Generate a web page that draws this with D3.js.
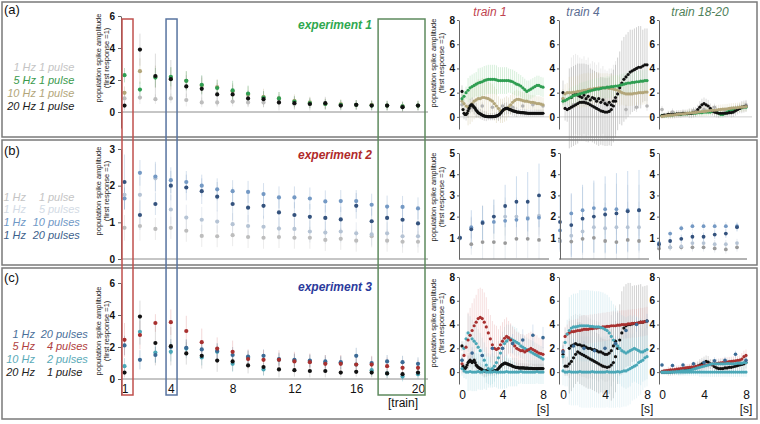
<!DOCTYPE html>
<html>
<head>
<meta charset="utf-8">
<script src="https://cdn.jsdelivr.net/npm/d3@7"></script>
<style>
  body { margin: 0; background: #fff; }
  svg { display: block; font-family: "Liberation Sans", Arial, sans-serif; }
</style>
</head>
<body>
<svg id="fig" width="760" height="424"></svg>
<script>
// ---------- data: summary per train (left column) ----------
const trains = [1,2,3,4,5,6,7,8,9,10,11,12,13,14,15,16,17,18,19,20];

// experiment 1
const labelsA = ['1 Hz 1 pulse', '5 Hz 1 pulse', '10 Hz 1 pulse', '20 Hz 1 pulse'];
const expA_1Hz  = [0.85,0.9,0.8,0.85,0.75,0.6,0.6,0.65,0.6,0.6,0.6,0.5,0.5,0.5,0.45,0.45,0.45,0.4,0.35,0.4];
const expA_5Hz  = [2.3,1.4,2.15,2.2,1.95,1.7,1.5,1.35,1.15,0.9,0.85,0.65,0.55,0.5,0.45,0.45,0.4,0.4,0.35,0.4];
const expA_10Hz = [1.2,2.55,2.2,2.1,1.95,1.65,1.55,1.3,1.1,0.95,0.85,0.7,0.6,0.5,0.5,0.45,0.45,0.4,0.35,0.4];
const expA_20Hz = [0.4,3.9,2.25,2.05,1.6,1.45,1.1,1.1,0.85,0.8,0.6,0.55,0.5,0.55,0.4,0.45,0.4,0.4,0.3,0.4];
const errA_1Hz  = [0.3,0.4,0.3,0.3,0.4,0.3,0.3,0.3,0.3,0.3,0.3,0.3,0.3,0.3,0.3,0.25,0.25,0.25,0.25,0.25];
const errA_5Hz  = [0.45,0.5,0.6,0.6,0.6,0.6,0.5,0.6,0.5,0.4,0.4,0.35,0.3,0.3,0.3,0.3,0.3,0.3,0.3,0.3];
const errA_10Hz = [0.4,0.8,0.7,0.7,0.6,0.5,0.5,0.5,0.5,0.5,0.4,0.4,0.35,0.35,0.3,0.3,0.3,0.3,0.3,0.3];
const errA_20Hz = [0.3,1.0,1.4,1.2,0.7,0.8,0.7,0.6,0.5,0.5,0.5,0.4,0.4,0.4,0.3,0.3,0.3,0.3,0.3,0.3];

// experiment 2
const labelsB = ['1 Hz 1 pulse', '1 Hz 5 pulses', '1 Hz 10 pulses', '1 Hz 20 pulses'];
const expB_1p  = [0.85,0.9,0.82,0.85,0.77,0.63,0.62,0.65,0.6,0.58,0.6,0.58,0.58,0.52,0.55,0.5,0.62,0.5,0.47,0.47];
const expB_5p  = [1.75,1.75,2.2,1.35,1.13,1.07,1.02,0.95,0.9,0.88,0.83,0.82,0.75,0.72,0.75,0.7,0.67,0.7,0.62,0.62];
const expB_10p = [1.65,2.35,2.25,2.15,2.1,2.0,1.9,1.85,1.83,1.77,1.68,1.68,1.65,1.57,1.58,1.58,1.48,1.43,1.42,1.38];
const expB_20p = [2.1,1.2,1.5,2.0,1.95,1.85,1.7,1.5,1.4,1.45,1.27,1.2,1.15,1.12,1.08,1.45,1.03,1.12,1.07,0.97];
const errB_1p  = [0.35,0.4,0.3,0.3,0.3,0.3,0.3,0.3,0.3,0.3,0.3,0.3,0.3,0.3,0.3,0.3,0.3,0.3,0.3,0.3];
const errB_5p  = [0.4,0.5,0.4,0.4,0.35,0.35,0.3,0.3,0.3,0.3,0.3,0.3,0.3,0.3,0.3,0.3,0.3,0.3,0.3,0.3];
const errB_10p = [0.3,0.35,0.4,0.35,0.3,0.3,0.3,0.3,0.3,0.3,0.3,0.3,0.3,0.3,0.3,0.3,0.3,0.3,0.3,0.3];
const errB_20p = [0.75,0.4,0.3,0.4,0.35,0.35,0.4,0.45,0.4,0.35,0.4,0.35,0.35,0.35,0.35,0.35,0.35,0.35,0.35,0.35];

// experiment 3
const labelsC = ['1 Hz 20 pulses', '5 Hz 4 pulses', '10 Hz 2 pulses', '20 Hz 1 pulse'];
const expC_1Hz  = [2.1,1.2,1.5,2.0,1.95,1.85,1.75,1.5,1.4,1.45,1.25,1.2,1.15,1.1,1.05,1.45,1.0,1.1,1.05,0.95];
const expC_5Hz  = [2.45,2.75,3.5,3.55,3.0,2.3,1.9,1.7,1.25,1.2,1.2,1.1,1.05,0.95,0.95,0.9,0.9,0.8,0.7,0.7];
const expC_10Hz = [0.8,2.95,1.65,1.7,1.9,1.35,1.7,0.95,1.35,0.6,1.2,1.15,1.1,1.0,1.0,0.9,0.55,0.35,0.15,0.3];
const expC_20Hz = [0.4,3.9,2.25,2.05,1.6,1.45,1.15,1.1,0.85,0.75,0.6,0.55,0.5,0.5,0.4,0.45,0.4,0.35,0.3,0.4];
const errC_1Hz  = [0.6,0.6,0.5,0.5,0.5,0.5,0.5,0.5,0.4,0.4,0.4,0.4,0.4,0.4,0.4,0.5,0.4,0.4,0.4,0.4];
const errC_5Hz  = [1.05,0.9,0.55,0.8,0.95,0.85,0.7,0.7,0.6,0.6,0.6,0.6,0.55,0.55,0.55,0.55,0.55,0.55,0.5,0.5];
const errC_10Hz = [0.5,0.8,0.6,0.6,0.6,0.5,0.5,0.5,0.4,0.4,0.4,0.4,0.4,0.4,0.4,0.4,0.4,0.3,0.3,0.3];
const errC_20Hz = [0.3,1.0,1.4,1.2,0.7,0.8,0.7,0.6,0.5,0.5,0.5,0.4,0.4,0.4,0.3,0.3,0.3,0.3,0.3,0.3];

// ---------- data: responses within a train (right column), t in s ----------
// exp 1, train 1
const a1_black = [2.1,0.6,0.3,0.2,0.2,0.3,0.5,0.7,0.9,1.0, 1.0,0.9,0.8,0.7,0.55,0.45,0.35,0.3,0.25,0.2,
  0.15,0.1,0.08,0.05,0.05,0.03,0.02,0.02,0.02,0.02, 0.02,0.03,0.05,0.05,0.08,0.1,0.15,0.2,0.3,0.4,
  0.5,0.6,0.65,0.7,0.7,0.7,0.65,0.6,0.6,0.55, 0.5,0.5,0.45,0.45,0.4,0.4,0.4,0.38,0.36,0.35,
  0.35,0.34,0.33,0.32,0.32,0.3,0.3,0.3,0.3,0.3, 0.3,0.3,0.3,0.3,0.3,0.3,0.3,0.3,0.3,0.3,0.3];
const a1_green = [1.5,1.7,2.0,2.2,2.4,2.5,2.6,2.7,2.8,2.85, 2.9,3.0,3.05,3.1,3.1,3.1,3.1,3.05,3.0,3.0,
  3.0,3.0,3.0,3.0,2.95,2.9,2.8,2.7,2.65,2.55, 2.4,2.25,2.1,2.2,2.3,2.4,2.5,2.6,2.6,2.5, 2.45];
const a1_tan = [1.3,1.1,0.9,0.8,0.9,1.1,1.3,1.4,1.5,1.5, 1.6,1.6,1.55,1.5,1.4,1.3,1.1,0.9,0.7,0.5,
  0.5,0.6,0.7,0.8,1.0,1.2,1.35,1.45,1.45,1.4, 1.35,1.3,1.3,1.25,1.2,1.2,1.15,1.1,1.1,1.05, 1.0];
const a1_gray = [1.0,0.8,0.9,0.8,0.9,0.8,0.9,1.0,0.9];
const a1_blackErr = [0.5,0.6,0.4,0.3,0.5,0.4,0.3,0.3,0.3];
const a1_greenErr = [0.5,1.0,1.2,1.2,1.1,1.0,0.9,0.8,0.8];
const a1_tanErr   = [0.8,1.5,1.6,1.4,1.0,0.8,0.7,0.6,0.6];
const a1_grayErr  = [0.3,0.3,0.3,0.3,0.3,0.3,0.3,0.3,0.3];

// exp 1, train 4
const a4_black = [2.0,0.7,0.6,0.7,0.8,0.9,1.0,1.1,1.2,1.2, 1.2,1.15,1.1,1.0,0.9,0.8,0.7,0.6,0.5,0.45,
  0.4,0.4,0.45,0.6,0.9,1.3,1.9,2.4,2.8,3.1, 3.3,3.5,3.7,3.8,3.9,4.0,4.1,4.1,4.2,4.3, 4.3];
const a4_blackUp = [1.6,1.8,1.9,1.8,1.7,1.6,1.8,1.5,1.7,1.4, 1.6,1.5,1.3,1.5,1.2,1.4,1.1,1.0,1.2,1.0, 1.3,1.6];
const a4_green = [1.3,1.35,1.45,1.55,1.65,1.75,1.8,1.85,1.9,1.95, 2.0,2.05,2.1,2.15,2.2,2.25,2.3,2.3,2.35,2.4,
  2.4,2.45,2.45,2.5,2.5,2.55,2.55,2.6,2.65,2.7, 2.75,2.8,2.8,2.85,2.85,2.9,2.9,2.95,2.95,3.0, 3.0];
const a4_tan = [1.5,1.9,2.0,2.0,2.0,2.05,2.05,2.1,2.1,2.15, 2.2,2.2,2.25,2.3,2.3,2.35,2.35,2.4,2.4,2.4,
  2.4,2.4,2.35,2.35,2.3,2.25,2.2,2.1,2.0,1.95, 1.9,1.9,1.9,1.9,1.95,1.95,2.0,2.0,2.0,2.05, 2.05];
const a4_gray = [1.5,1.0,1.3,1.5,1.2,1.4,0.6,0.8,0.9];
const a4_blackErr = [1.0,3.3,3.2,3.0,2.8,3.0,3.5,3.4,3.0];
const a4_greenErr = [0.5,0.8,0.9,0.9,0.9,0.9,0.9,0.9,0.9];
const a4_tanErr   = [0.8,1.3,1.4,1.3,1.2,1.2,1.0,1.0,1.0];
const a4_grayErr  = [0.4,0.4,0.4,0.4,0.4,0.4,0.4,0.4,0.4];

// exp 1, trains 18-20
const a18_black = [0.1,0.15,0.15,0.2,0.2,0.2,0.2,0.25,0.25,0.25, 0.3,0.3,0.3,0.3,0.3,0.35,0.4,0.6,0.8,1.0,
  1.1,1.0,0.9,0.7,0.5,0.4,0.35,0.3,0.3,0.3, 0.3,0.3,0.35,0.35,0.4,0.5,0.6,0.7,0.8,0.85, 0.9];
const a18_green = [0.1,0.1,0.1,0.15,0.15,0.15,0.2,0.2,0.2,0.2, 0.25,0.25,0.25,0.3,0.3,0.3,0.3,0.35,0.35,0.35,
  0.4,0.4,0.4,0.4,0.45,0.45,0.4,0.3,0.2,0.2, 0.3,0.4,0.5,0.6,0.6,0.65,0.7,0.7,0.75,0.8, 0.8];
const a18_tan = [0.05,0.07,0.1,0.12,0.14,0.15,0.17,0.2,0.22,0.24, 0.25,0.27,0.3,0.32,0.34,0.35,0.37,0.4,0.42,0.44,
  0.45,0.47,0.5,0.52,0.54,0.55,0.57,0.6,0.62,0.64, 0.65,0.67,0.7,0.72,0.74,0.75,0.77,0.8,0.8,0.82, 0.85];
const a18_gray = [0.6,0.4,0.3,0.5,0.6,0.8,0.5,0.7,1.0];
const a18_blackErr = [0.2,0.3,0.3,0.4,0.5,0.4,0.3,0.4,0.5];
const a18_greenErr = [0.2,0.2,0.2,0.3,0.3,0.3,0.3,0.3,0.3];
const a18_tanErr   = [0.2,0.3,0.3,0.3,0.4,0.4,0.4,0.4,0.4];
const a18_grayErr  = [0.3,0.3,0.3,0.3,0.3,0.3,0.3,0.3,0.3];

// exp 2: 8 responses within a train
const b1_20p = [1.0,1.4,1.7,2.0,2.5,2.7,2.7,3.0];
const b1_10p = [1.0,1.5,1.75,1.75,1.8,1.85,1.9,1.95];
const b1_5p  = [1.0,1.45,1.7,2.0,2.0,2.0,1.95,2.05];
const b1_1p  = [1.0,0.7,0.8,0.8,0.75,0.95,0.95,0.9];
const b4_20p = [1.75,1.6,1.9,2.0,2.1,2.15,2.25,2.3];
const b4_10p = [1.35,2.15,2.3,2.4,2.35,2.35,2.3,2.3];
const b4_5p  = [0.85,1.1,1.3,1.5,1.45,1.5,1.5,1.5];
const b4_1p  = [0.85,0.82,0.95,1.0,0.85,0.8,0.9,0.85];
const b18_20p = [0.7,0.85,0.95,1.05,1.05,1.15,1.2,1.5];
const b18_10p = [0.75,1.2,1.45,1.55,1.55,1.55,1.55,1.55];
const b18_5p  = [0.6,0.55,0.6,0.75,0.75,0.7,0.7,0.75];
const b18_1p  = [0.5,0.55,0.55,0.55,0.55,0.5,0.45,0.55];
const b1_err20  = [0.15,0.9,0.8,0.8,1.0,1.2,1.4,1.5];
const b1_errOth = [0.1,0.5,0.8,0.8,0.9,0.9,0.9,0.9];
const b4_err20  = [1.3,1.5,1.6,1.7,1.8,1.9,1.9,1.9];
const b4_errOth = [0.5,0.9,1.1,1.2,1.2,1.2,1.2,1.2];
const b18_err20  = [0.15,0.2,0.2,0.2,0.2,0.2,0.2,0.2];
const b18_errOth = [0.15,0.15,0.15,0.2,0.2,0.2,0.2,0.2];

// exp 3, train 1
const c1_black = [2.2,0.5,0.3,0.3,0.4,0.6,0.8,0.9,1.0,0.9, 0.8,0.9,1.0,0.8,0.6,0.5,0.4,0.35,0.3,0.25,
  0.2,0.15,0.1,0.1,0.1,0.1,0.1,0.1,0.1,0.1, 0.1,0.1,0.1,0.1,0.15,0.2,0.3,0.4,0.5,0.6,
  0.65,0.7,0.75,0.75,0.7,0.7,0.65,0.6,0.6,0.55, 0.5,0.45,0.45,0.4,0.4,0.4,0.35,0.35,0.35,0.35,
  0.35,0.35,0.33,0.33,0.33,0.33,0.32,0.32,0.32,0.32, 0.3,0.3,0.3,0.3,0.3,0.3,0.3,0.3,0.3,0.3,0.3];
const c1_red = [0.7,1.4,2.1,2.7,3.1,3.5,3.9,4.2,4.5,4.6, 4.5,4.2,3.8,3.3,2.8,2.3,2.0,1.9,2.0,2.3,
  2.6,2.85,3.0,2.9,2.7,2.4,2.2,2.0,1.9,1.8, 1.8,1.7,1.8,1.9,2.0,1.9,1.8,1.7,1.6,1.55, 1.5];
const c1_tealUp = [1.0,2.0,2.8,3.3,3.1,2.8,2.6,2.4,2.1,1.8, 1.4,1.0,0.6,0.3,0.2,0.3,0.5,0.8,1.2,1.6,
  2.0,2.4,2.6,2.8,2.8,2.7,2.6,2.5,2.4,2.2, 2.1,2.0,1.9,1.8,1.7,1.6,1.5,1.4,1.3,1.2, 1.1];
const c1_tealLow = [0.3,0.1,0.0,0.0,0.05,0.0,0.0,0.0,0.05,0.0, 0.0,0.1,0.0,0.0,0.0,0.0,0.05,0.0,0.0,0.0,
  0.0,0.0,0.05,0.0,0.0,0.0,0.0,0.0,0.0,0.05, 0.0,0.0,0.0,0.0,0.0,0.0,0.0,0.05,0.0,0.0, 0.0];
const c1_blue = [1.0,1.6,1.4,2.0,2.0,2.4,2.7,3.1,2.9];
const c1_blackErr = [0.4,0.6,0.5,0.4,0.5,0.4,0.4,0.4,0.4];
const c1_redErr   = [0.8,2.3,2.5,2.0,1.6,1.4,1.4,1.4,1.3];
const c1_tealErr  = [0.6,1.6,1.5,1.3,1.4,1.2,1.0,1.0,1.0];
const c1_blueErr  = [0.3,0.5,0.6,0.7,0.8,0.8,0.9,0.9,0.9];

// exp 3, train 4
const c4_black = [1.5,0.5,0.5,0.7,0.9,1.2,1.5,1.7,1.6,1.5, 1.4,1.3,1.2,1.1,1.0,0.9,0.8,0.7,0.6,0.5,
  0.45,0.4,0.45,0.6,0.8,1.3,2.0,2.7,3.3,3.7, 3.9,4.0,4.0,4.05,4.1,4.1,4.15,4.2,4.2,4.25, 4.3];
const c4_blackUp = [2.0,2.2,2.3,2.4,2.3,2.3,2.2,2.2,2.1,2.0, 2.0,1.9,1.9,1.8,1.7,1.7,1.6,1.5,1.5,1.6, 1.8,2.2,2.6];
const c4_red = [1.8,3.0,3.2,3.3,3.4,3.4,3.45,3.5,3.5,3.55, 3.6,3.6,3.6,3.65,3.65,3.7,3.7,3.75,3.75,3.8,
  3.8,3.85,3.85,3.9,3.9,3.9,3.95,3.95,4.0,4.0, 4.0,4.05,4.05,4.1,4.1,4.1,4.15,4.2,4.2,4.25, 4.3];
const c4_tealUp = [1.3,2.5,3.2,3.5,3.7,3.8,3.8,3.85,3.9,3.9, 3.9,3.9,3.9,3.85,3.85,3.8,3.8,3.8,3.75,3.7,
  3.6,3.5,3.3,3.0,2.7,2.4,2.2,2.0,1.8,1.7, 1.6,1.7,1.8,1.9,2.0,1.9,1.8,1.7,1.7,1.8, 1.9];
const c4_tealLow = [0.1,0.0,0.0,0.05,0.0,0.0,0.0,0.0,0.05,0.0, 0.0,0.0,0.0,0.0,0.05,0.0,0.0,0.0,0.0,0.0,
  0.0,0.05,0.0,0.0,0.0,0.0,0.05,0.0,0.05,0.1, 0.1,0.2,0.3,0.4,0.5,0.6,0.8,0.9,1.0,1.2, 1.3];
const c4_blue = [1.7,2.2,2.0,1.8,2.0,2.4,3.5,4.0,4.3];
const c4_blackErr = [0.8,2.5,2.6,2.5,2.3,3.0,3.5,3.2,3.0];
const c4_redErr   = [0.8,1.0,1.2,1.2,1.2,1.2,1.2,1.2,1.2];
const c4_tealErr  = [1.2,2.8,3.0,3.0,3.0,3.0,3.0,2.8,2.5];
const c4_blueErr  = [0.5,0.6,0.6,0.6,0.6,0.6,0.6,0.6,0.6];

// exp 3, trains 18-20
const c18_black = [0.0,0.0,0.0,0.0,0.0,0.02,0.03,0.05,0.05,0.1, 0.1,0.15,0.2,0.25,0.3,0.35,0.4,0.5,0.6,0.7,
  0.8,0.9,0.85,0.7,0.6,0.45,0.35,0.3,0.3,0.3, 0.35,0.35,0.4,0.4,0.45,0.5,0.55,0.6,0.65,0.7, 0.8];
const c18_red = [0.05,0.1,0.12,0.15,0.18,0.2,0.22,0.25,0.28,0.3, 0.32,0.35,0.38,0.4,0.42,0.45,0.48,0.5,0.52,0.55,
  0.58,0.6,0.62,0.65,0.68,0.7,0.72,0.75,0.78,0.8, 0.82,0.85,0.88,0.9,0.92,0.95,0.98,1.0,1.1,1.3, 1.4];
const c18_tealUp = [0.0,0.0,0.0,0.0,0.0,0.02,0.03,0.05,0.05,0.08, 0.1,0.1,0.12,0.15,0.2,0.25,0.3,0.35,0.4,0.45,
  0.5,0.55,0.6,0.65,0.7,0.7,0.7,0.7,0.7,0.7, 0.7,0.72,0.72,0.7,0.7,0.72,0.75,0.75,0.75,0.8, 0.8];
const c18_tealLow = [0.0,0.0,0.0,0.0,0.0,0.0,0.0,0.0,0.0,0.0, 0.0,0.0,0.0,0.0,0.0,0.0,0.0,0.0,0.0,0.0,
  0.0,0.0,0.0,0.0,0.0,0.0,0.0,0.0,0.0,0.0, 0.0,0.0,0.0,0.0,0.0,0.0,0.0,0.0,0.0,0.0, 0.0];
const c18_blue = [0.6,0.55,0.6,0.7,0.8,0.95,1.0,1.5,1.0];
const c18_blackErr = [0.2,0.3,0.3,0.4,0.5,0.4,0.3,0.4,0.5];
const c18_redErr   = [0.2,0.3,0.3,0.3,0.4,0.4,0.4,0.4,0.5];
const c18_tealErr  = [0.2,0.2,0.3,0.3,0.4,0.4,0.4,0.4,0.4];
const c18_blueErr  = [0.2,0.2,0.2,0.2,0.3,0.3,0.3,0.3,0.3];

const timeTicks = [0, 4, 8];
const trainTicks = [1, 4, 8, 12, 16, 20];
const rightTitles = ['train 1', 'train 4', 'train 18-20'];

// ---------- colours ----------
const C = {
  gray: '#bdbdbd', green: '#2f9e52', tan: '#b3a67a', black: '#111',
  navy: '#34527d', mid: '#7499c4', pale: '#b5c3d4', gray2: '#9a9a9a',
  blue: '#3b6a95', red: '#a8302f', teal: '#4aa7b7'
};

const svg = d3.select('#fig');
svg.append('rect').attr('width', 760).attr('height', 424).attr('fill', '#fff');

const xL = d3.scaleLinear().domain([1, 20]).range([124.5, 418]);
const axisX = [459, 559, 659];
const timeRange = [[462, 543], [563, 647], [662, 746]];
const pointRange = [[460, 539], [560, 639], [659, 737]];
const fmt = d3.format('d');

function styleAxis(g, size) {
  g.attr('font-family', null).attr('font-size', null);
  g.select('.domain').attr('stroke', '#666');
  g.selectAll('.tick line').attr('stroke', '#666');
  g.selectAll('.tick text').attr('font-weight', 'bold').attr('font-size', size).attr('fill', '#111');
}

function yLabel(x, cy) {
  const g = svg.append('g').attr('transform', `translate(${x},${cy}) rotate(-90)`)
    .attr('font-size', 7.5).attr('text-anchor', 'middle').attr('fill', '#222');
  g.append('text').attr('y', 0).text('population spike amplitude');
  g.append('text').attr('y', 8).text('(first response =1)');
}

function legend(labels, colors, o) {
  labels.forEach((lab, i) => {
    const m = lab.match(/^(\S+ Hz)\s+(\d+)\s+(\S+)$/);
    const yy = o.y + i * o.step;
    const g = svg.append('g').attr('font-size', 11).attr('font-style', 'italic').attr('fill', colors[i]);
    g.append('text').attr('x', o.hz).attr('y', yy).attr('text-anchor', 'end').text(m[1]);
    g.append('text').attr('x', o.n).attr('y', yy).attr('text-anchor', 'end').text(m[2]);
    g.append('text').attr('x', o.n + 3).attr('y', yy).text(m[3]);
  });
}

// ---------- left column: amplitude per train ----------
function leftPanel(p) {
  const y = d3.scaleLinear().domain(p.yDomain).range(p.yRange);
  svg.append('line').attr('x1', 121).attr('x2', 428).attr('y1', y(0)).attr('y2', y(0))
    .attr('stroke', '#8c8c8c').attr('stroke-width', 1);
  const ax = svg.append('g').attr('transform', 'translate(121,0)')
    .call(d3.axisLeft(y).tickValues(p.ticks).tickFormat(fmt).tickSize(3).tickSizeOuter(0).tickPadding(3));
  styleAxis(ax, 10);

  p.series.forEach(s => {
    svg.append('g').selectAll('line').data(s.values).join('line')
      .attr('x1', (d, i) => xL(trains[i])).attr('x2', (d, i) => xL(trains[i]))
      .attr('y1', (d, i) => y(d - s.err[i])).attr('y2', (d, i) => y(d + s.err[i]))
      .attr('stroke', s.errColor || s.color).attr('stroke-opacity', 0.3).attr('stroke-width', 1);
  });
  p.series.forEach(s => {
    svg.append('g').selectAll('circle').data(s.values).join('circle')
      .attr('cx', (d, i) => xL(trains[i])).attr('cy', d => y(d))
      .attr('r', 2.1).attr('fill', s.color);
  });
  yLabel(101, p.labelY);
  return y;
}

leftPanel({
  yDomain: [-1, 6], yRange: [128, 16], ticks: [0, 2, 4, 6], labelY: 58,
  series: [
    { values: expA_1Hz, err: errA_1Hz, color: C.gray },
    { values: expA_10Hz, err: errA_10Hz, color: C.tan },
    { values: expA_5Hz, err: errA_5Hz, color: C.green },
    { values: expA_20Hz, err: errA_20Hz, color: C.black, errColor: '#8a8a8a' }
  ]
});
leftPanel({
  yDomain: [0, 3], yRange: [259, 149], ticks: [0, 1, 2, 3], labelY: 191,
  series: [
    { values: expB_1p, err: errB_1p, color: C.gray },
    { values: expB_5p, err: errB_5p, color: C.pale },
    { values: expB_10p, err: errB_10p, color: C.mid },
    { values: expB_20p, err: errB_20p, color: C.navy, errColor: '#7a9cc4' }
  ]
});
leftPanel({
  yDomain: [-1, 6], yRange: [395, 283], ticks: [0, 2, 4, 6], labelY: 331,
  series: [
    { values: expC_10Hz, err: errC_10Hz, color: C.teal },
    { values: expC_1Hz, err: errC_1Hz, color: C.blue },
    { values: expC_5Hz, err: errC_5Hz, color: C.red, errColor: '#d47a7a' },
    { values: expC_20Hz, err: errC_20Hz, color: C.black, errColor: '#8a8a8a' }
  ]
});

const xAx = svg.append('g').attr('transform', 'translate(0,382)')
  .call(d3.axisBottom(xL).tickValues(trainTicks).tickFormat(fmt).tickSize(0).tickPadding(2));
xAx.attr('font-family', null).attr('font-size', null);
xAx.select('.domain').remove();
xAx.selectAll('.tick text').attr('font-size', 12).attr('fill', '#111');
svg.append('text').attr('x', 403).attr('y', 407).attr('text-anchor', 'middle')
  .attr('font-size', 12).attr('fill', '#111').text('[train]');

// ---------- right column: responses within a train ----------
function timePanel(k, y, series, grid) {
  const x = d3.scaleLinear().domain([0, 8]).range(timeRange[k]);
  if (grid) {
    svg.append('line').attr('x1', axisX[k]).attr('x2', timeRange[k][1] + 6)
      .attr('y1', y(0)).attr('y2', y(0)).attr('stroke', '#cfcfcf');
  }
  const pts = s => s.v.map((d, i) => ({ t: (s.t0 || 0) + i * s.dt, v: d }));
  series.forEach(s => {
    const every = s.every || 1;
    const data = pts(s).filter((d, i) => i % every === 0);
    svg.append('g').selectAll('line').data(data).join('line')
      .attr('x1', d => x(d.t)).attr('x2', d => x(d.t))
      .attr('y1', d => y(d.v - s.err[Math.round(d.t)]))
      .attr('y2', d => y(d.v + s.err[Math.round(d.t)]))
      .attr('stroke', s.errColor).attr('stroke-opacity', s.errOpacity || 0.35).attr('stroke-width', 1);
  });
  series.forEach(s => {
    svg.append('g').selectAll('circle').data(pts(s)).join('circle')
      .attr('cx', d => x(d.t)).attr('cy', d => y(d.v))
      .attr('r', s.r || 1.6).attr('fill', s.color);
  });
  const ax = svg.append('g').attr('transform', `translate(${axisX[k]},0)`)
    .call(d3.axisLeft(y).tickValues([0, 2, 4, 6, 8]).tickFormat(fmt).tickSize(2).tickSizeOuter(0).tickPadding(2));
  styleAxis(ax, 10);
  return x;
}

// experiment 1
const yRA = d3.scaleLinear().domain([-1, 8]).range([129, 20]);
const exp1Right = [
  [
    { v: a1_gray, dt: 1, color: '#b4b4b4', err: a1_grayErr, errColor: '#bbb', r: 1.8 },
    { v: a1_tan, dt: 0.2, color: C.tan, err: a1_tanErr, errColor: '#c9bd92' },
    { v: a1_green, dt: 0.2, color: C.green, err: a1_greenErr, errColor: '#8fd49c' },
    { v: a1_black, dt: 0.1, color: C.black, err: a1_blackErr, errColor: '#888', every: 2 }
  ],
  [
    { v: a4_gray, dt: 1, color: '#b4b4b4', err: a4_grayErr, errColor: '#bbb', r: 1.8 },
    { v: a4_black, dt: 0.2, color: C.black, err: a4_blackErr, errColor: '#9a9a9a', errOpacity: 0.45 },
    { v: a4_blackUp, dt: 0.2, t0: 0.8, color: C.black, err: a4_blackErr, errColor: '#9a9a9a', errOpacity: 0.2 },
    { v: a4_tan, dt: 0.2, color: C.tan, err: a4_tanErr, errColor: '#d6cca6' },
    { v: a4_green, dt: 0.2, color: C.green, err: a4_greenErr, errColor: '#a8dcb0' }
  ],
  [
    { v: a18_gray, dt: 1, color: '#b4b4b4', err: a18_grayErr, errColor: '#bbb', r: 1.8 },
    { v: a18_green, dt: 0.2, color: C.green, err: a18_greenErr, errColor: '#a8dcb0' },
    { v: a18_black, dt: 0.2, color: C.black, err: a18_blackErr, errColor: '#999' },
    { v: a18_tan, dt: 0.2, color: C.tan, err: a18_tanErr, errColor: '#d6cca6' }
  ]
];
exp1Right.forEach((series, k) => timePanel(k, yRA, series, true));
yLabel(436, 63);

// experiment 2
const yRB = d3.scaleLinear().domain([0, 5]).range([259, 153]);
const exp2Right = [
  [b1_1p, b1_5p, b1_10p, b1_20p, b1_err20, b1_errOth],
  [b4_1p, b4_5p, b4_10p, b4_20p, b4_err20, b4_errOth],
  [b18_1p, b18_5p, b18_10p, b18_20p, b18_err20, b18_errOth]
];
exp2Right.forEach((set, k) => {
  const x = d3.scaleLinear().domain([0, 7]).range(pointRange[k]);
  const cols = [C.gray2, C.pale, C.mid, C.navy];
  for (let j = 0; j < 4; j++) {
    const e = j === 3 ? set[4] : set[5];
    svg.append('g').selectAll('line').data(set[j]).join('line')
      .attr('x1', (d, i) => x(i)).attr('x2', (d, i) => x(i))
      .attr('y1', (d, i) => yRB(Math.max(0, d - e[i]))).attr('y2', (d, i) => yRB(d + e[i]))
      .attr('stroke', j === 3 ? '#8fb2d6' : '#c9d3de').attr('stroke-opacity', 0.45);
  }
  for (let j = 0; j < 4; j++) {
    svg.append('g').selectAll('circle').data(set[j]).join('circle')
      .attr('cx', (d, i) => x(i)).attr('cy', d => yRB(d)).attr('r', 1.9).attr('fill', cols[j]);
  }
  const ax = svg.append('g').attr('transform', `translate(${axisX[k] + (k === 1 ? 1 : 0)},0)`)
    .call(d3.axisLeft(yRB).tickValues([1, 2, 3, 4, 5]).tickFormat(fmt).tickSize(2).tickSizeOuter(0).tickPadding(2));
  styleAxis(ax, 10);
  svg.append('line').attr('x1', axisX[k]).attr('x2', pointRange[k][1] + 10)
    .attr('y1', yRB(0)).attr('y2', yRB(0)).attr('stroke', '#666');
});
yLabel(436, 197);

// experiment 3
const yRC = d3.scaleLinear().domain([-1, 8]).range([384, 277]);
const exp3Right = [
  [
    { v: c1_black, dt: 0.1, color: C.black, err: c1_blackErr, errColor: '#888', every: 2 },
    { v: c1_tealLow, dt: 0.2, color: C.teal, err: c1_tealErr, errColor: '#9fd3de' },
    { v: c1_tealUp, dt: 0.2, color: C.teal, err: c1_tealErr, errColor: '#9fd3de' },
    { v: c1_red, dt: 0.2, color: C.red, err: c1_redErr, errColor: '#e6a3a3' },
    { v: c1_blue, dt: 1, color: C.blue, err: c1_blueErr, errColor: '#8fb2d6', r: 1.8 }
  ],
  [
    { v: c4_black, dt: 0.2, color: C.black, err: c4_blackErr, errColor: '#9a9a9a', errOpacity: 0.45 },
    { v: c4_blackUp, dt: 0.2, t0: 0.6, color: C.black, err: c4_blackErr, errColor: '#9a9a9a', errOpacity: 0.2 },
    { v: c4_tealLow, dt: 0.2, color: C.teal, err: c4_tealErr, errColor: '#a6d8e2', errOpacity: 0.25 },
    { v: c4_red, dt: 0.2, color: C.red, err: c4_redErr, errColor: '#e6a3a3' },
    { v: c4_tealUp, dt: 0.2, color: C.teal, err: c4_tealErr, errColor: '#a6d8e2' },
    { v: c4_blue, dt: 1, color: C.blue, err: c4_blueErr, errColor: '#8fb2d6', r: 1.8 }
  ],
  [
    { v: c18_black, dt: 0.2, color: C.black, err: c18_blackErr, errColor: '#999' },
    { v: c18_tealLow, dt: 0.2, color: C.teal, err: c18_tealErr, errColor: '#a6d8e2' },
    { v: c18_red, dt: 0.2, color: C.red, err: c18_redErr, errColor: '#e6a3a3' },
    { v: c18_tealUp, dt: 0.2, color: C.teal, err: c18_tealErr, errColor: '#a6d8e2' },
    { v: c18_blue, dt: 1, color: C.blue, err: c18_blueErr, errColor: '#8fb2d6', r: 1.8 }
  ]
];
exp3Right.forEach((series, k) => {
  const x = timePanel(k, yRC, series, false);
  const ax = svg.append('g').attr('transform', 'translate(0,388)')
    .call(d3.axisBottom(x).tickValues(timeTicks).tickFormat(fmt).tickSize(0).tickPadding(2));
  ax.attr('font-family', null).attr('font-size', null);
  ax.select('.domain').remove();
  ax.selectAll('.tick text').attr('font-size', 12).attr('fill', '#111');
  svg.append('text').attr('x', timeRange[k][1]).attr('y', 413).attr('text-anchor', 'middle')
    .attr('font-size', 12).attr('fill', '#111').text('[s]');
});
yLabel(436, 323);

// ---------- titles, legends, frames ----------
const titleColors = ['#c0434f', '#5b6c92', '#4f7f5a'];
rightTitles.forEach((t, k) => {
  svg.append('text').attr('x', [490, 583, 700][k]).attr('y', 16).attr('text-anchor', 'middle')
    .attr('font-size', 12).attr('font-style', 'italic').attr('fill', titleColors[k]).text(t);
});

const expTitles = [['experiment 1', 29, '#2fa84f'], ['experiment 2', 159, '#b02a2a'], ['experiment 3', 291, '#2b3a9c']];
expTitles.forEach(([t, yy, c]) => {
  svg.append('text').attr('x', 372).attr('y', yy).attr('text-anchor', 'end')
    .attr('font-size', 12).attr('font-weight', 'bold').attr('font-style', 'italic').attr('fill', c).text(t);
});

legend(labelsA, ['#c4c4c4', '#3a9a4c', '#b3a67a', '#1a1a1a'], { y: 70.5, step: 13, hz: 36, n: 45 });
legend(labelsB, ['#c4c4c4', '#d3dbe5', '#6f98c6', '#3d5f8c'], { y: 200.5, step: 12.7, hz: 26, n: 45 });
legend(labelsC, ['#4a6f9a', '#b04040', '#5aaab8', '#222'], { y: 337.5, step: 12.7, hz: 35, n: 53 });

[['(a)', 14], ['(b)', 155], ['(c)', 282]].forEach(([t, yy]) => {
  svg.append('text').attr('x', 4).attr('y', yy).attr('font-size', 13).attr('fill', '#111').text(t);
});

[[2, 2, 755, 135], [2, 140, 755, 125], [2, 268, 755, 151]].forEach(([x, y, w, h]) => {
  svg.append('rect').attr('x', x).attr('y', y).attr('width', w).attr('height', h)
    .attr('fill', 'none').attr('stroke', '#7a7a7a').attr('stroke-width', 1.5);
});

// highlight boxes around trains 1, 4 and 18-20
const boxes = [
  [xL(1) - 2.5, xL(1) + 8.5, '#c0504d'],
  [xL(4) - 4.8, xL(4) + 6.2, '#5874a0'],
  [xL(18) - 9, xL(20) + 7, '#5e8a5e']
];
boxes.forEach(([x1, x2, c]) => {
  svg.append('rect').attr('x', x1).attr('y', 19).attr('width', x2 - x1).attr('height', 376)
    .attr('fill', 'none').attr('stroke', c).attr('stroke-width', 1.5);
});
</script>
</body>
</html>
